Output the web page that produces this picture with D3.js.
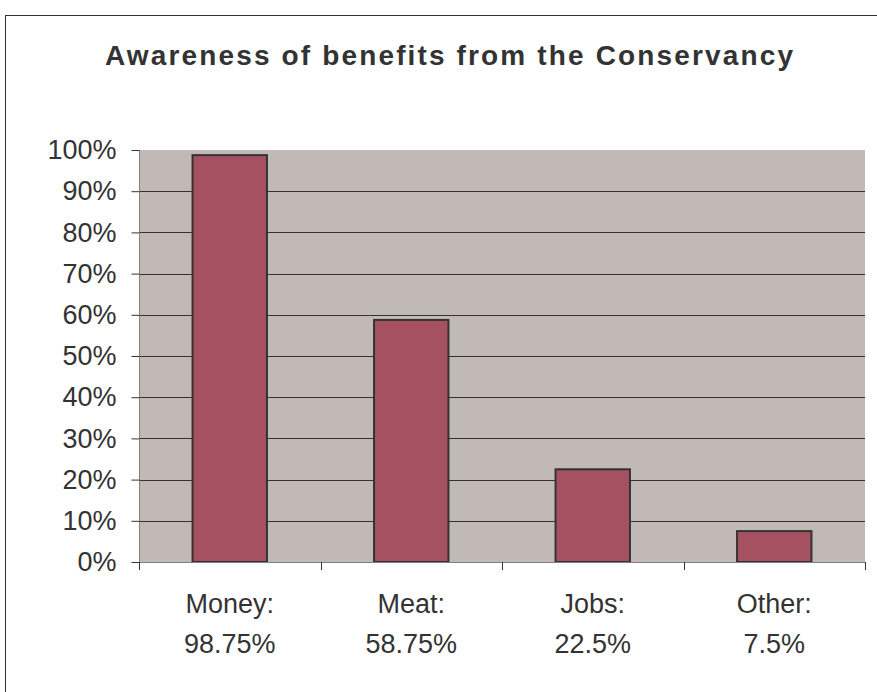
<!DOCTYPE html>
<html>
<head>
<meta charset="utf-8">
<script src="https://cdn.jsdelivr.net/npm/d3@7"></script>
<style>
  body { margin: 0; background: #fff; }
  text { font-family: "Liberation Sans", Arial, sans-serif; fill: #333; }
</style>
</head>
<body>
<div id="chart"></div>
<script>
var categories = ['Money', 'Meat', 'Jobs', 'Other'];
var values = [98.75, 58.75, 22.5, 7.5];
var yTicks = [0, 10, 20, 30, 40, 50, 60, 70, 80, 90, 100];
var title = 'Awareness of benefits from the Conservancy';

var W = 877, H = 692;
var plot = { left: 139, right: 865, top: 150, bottom: 562 };

var svg = d3.select('#chart')
    .append('svg')
    .attr('width', W)
    .attr('height', H);

// outer chart border (runs off the right and bottom)
svg.append('rect')
    .attr('x', 5.5)
    .attr('y', 15.5)
    .attr('width', 900)
    .attr('height', 700)
    .attr('fill', '#fff')
    .attr('stroke', '#333')
    .attr('stroke-width', 1);

svg.append('text')
    .attr('x', 449)
    .attr('y', 65)
    .attr('text-anchor', 'middle')
    .attr('font-size', '28px')
    .attr('font-weight', 'bold')
    .attr('textLength', 688)
    .attr('lengthAdjust', 'spacing')
    .text(title);

var x = d3.scaleBand()
    .domain(categories)
    .range([plot.left, plot.right])
    .paddingInner(0.59)
    .paddingOuter(0.295);

var y = d3.scaleLinear()
    .domain([0, 100])
    .range([plot.bottom, plot.top]);

// plot background
svg.append('rect')
    .attr('x', plot.left)
    .attr('y', plot.top)
    .attr('width', plot.right - plot.left)
    .attr('height', plot.bottom - plot.top)
    .attr('fill', '#c1b9b6');

// gridlines
svg.append('g')
    .selectAll('line')
    .data(yTicks.filter(function(d) { return d > 0 && d < 100; }))
    .enter()
    .append('line')
    .attr('x1', plot.left)
    .attr('x2', plot.right)
    .attr('y1', function(d) { return Math.round(y(d)) + 0.5; })
    .attr('y2', function(d) { return Math.round(y(d)) + 0.5; })
    .attr('stroke', '#333')
    .attr('stroke-width', 1);

// bars
svg.append('g')
    .selectAll('rect')
    .data(values)
    .enter()
    .append('rect')
    .attr('x', function(d, i) { return x(categories[i]); })
    .attr('y', function(d) { return y(d); })
    .attr('width', x.bandwidth())
    .attr('height', function(d) { return plot.bottom - y(d); })
    .attr('fill', '#a55161')
    .attr('stroke', '#333')
    .attr('stroke-width', 2);

// y axis
var yAxis = d3.axisLeft(y)
    .tickValues(yTicks)
    .tickSize(8)
    .tickPadding(15)
    .tickFormat(function(d) { return d + '%'; });

var gy = svg.append('g')
    .attr('transform', 'translate(' + (plot.left + 0.5) + ',0)')
    .call(yAxis);
gy.select('.domain').attr('stroke', '#808080').attr('d', 'M0,' + plot.top + 'V' + plot.bottom);
gy.selectAll('.tick line').attr('stroke', '#333');
gy.selectAll('.tick text')
    .attr('font-size', '27px')
    .attr('font-family', '"Liberation Sans", Arial, sans-serif')
    .attr('fill', '#333');

// x axis line and boundary ticks
svg.append('line')
    .attr('x1', plot.left)
    .attr('x2', plot.right)
    .attr('y1', plot.bottom + 0.5)
    .attr('y2', plot.bottom + 0.5)
    .attr('stroke', '#808080');

var bounds = d3.range(categories.length + 1).map(function(i) {
    return plot.left + i * x.step();
});
svg.append('g')
    .selectAll('line')
    .data(bounds)
    .enter()
    .append('line')
    .attr('x1', function(d) { return Math.round(d) + 0.5; })
    .attr('x2', function(d) { return Math.round(d) + 0.5; })
    .attr('y1', plot.bottom)
    .attr('y2', plot.bottom + 8)
    .attr('stroke', '#333');

// category labels, two lines each
var labels = svg.append('g')
    .selectAll('text')
    .data(categories)
    .enter()
    .append('text')
    .attr('text-anchor', 'middle')
    .attr('font-size', '27px');

labels.append('tspan')
    .attr('x', function(d) { return x(d) + x.bandwidth() / 2; })
    .attr('y', 613)
    .text(function(d) { return d + ':'; });

labels.append('tspan')
    .attr('x', function(d) { return x(d) + x.bandwidth() / 2; })
    .attr('y', 653)
    .text(function(d, i) { return values[i] + '%'; });
</script>
</body>
</html>
